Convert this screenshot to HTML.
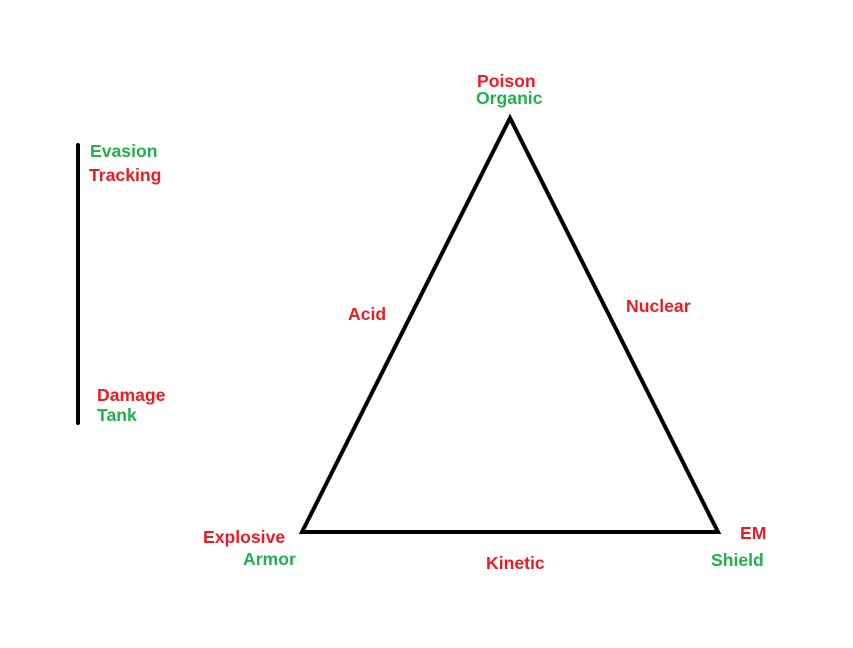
<!DOCTYPE html>
<html><head><style>
html,body{margin:0;padding:0;background:#fff;}
svg{display:block;}
text{font-family:"Liberation Sans",sans-serif;font-weight:bold;font-size:17.6px;}
.r{fill:#ed1c24;}
.g{fill:#22b14c;}
</style></head><body>
<svg width="853" height="648" viewBox="0 0 853 648">
<rect width="853" height="648" fill="#fff"/>
<line x1="78" y1="145" x2="78" y2="423" stroke="#000" stroke-width="4" stroke-linecap="round"/>
<polygon points="510,118 302,532 718,532" fill="none" stroke="#000" stroke-width="4" stroke-linejoin="miter"/>
<text class="r" x="477" y="87">Poison</text>
<text class="g" x="476" y="104">Organic</text>
<text class="g" x="90" y="157">Evasion</text>
<text class="r" x="89" y="181">Tracking</text>
<text class="r" x="348" y="320">Acid</text>
<text class="r" x="626" y="312">Nuclear</text>
<text class="r" x="97" y="401">Damage</text>
<text class="g" x="97" y="421">Tank</text>
<text class="r" x="203" y="543">Explosive</text>
<text class="g" x="243" y="565">Armor</text>
<text class="r" x="486" y="569">Kinetic</text>
<text class="r" x="740" y="539">EM</text>
<text class="g" x="711" y="566">Shield</text>
</svg>
</body></html>
